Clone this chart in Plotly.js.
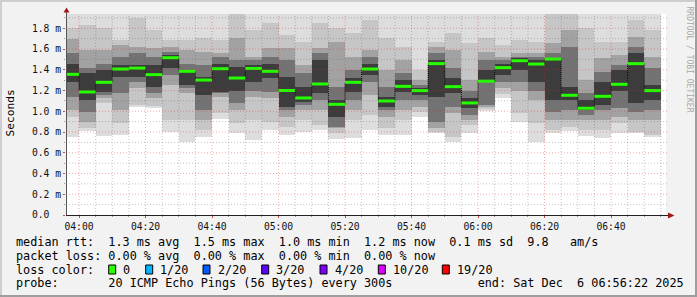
<!DOCTYPE html>
<html><head><meta charset="utf-8">
<script src="https://cdn.plot.ly/plotly-3.0.1.min.js"></script>
<style>html,body{margin:0;padding:0;background:#f2f2f2;}#chart{width:697px;height:297px;}</style>
</head><body><div id="chart"></div>
<script>
// ---- data (values in milliseconds) ----
const slotStarts = ['03:55','04:00','04:05','04:10','04:15','04:20','04:25','04:30','04:35','04:40','04:45','04:50',
  '04:55','05:00','05:05','05:10','05:15','05:20','05:25','05:30','05:35','05:40','05:45','05:50',
  '05:55','06:00','06:05','06:10','06:15','06:20','06:25','06:30','06:35','06:40','06:45','06:50'];
const medianRtt = [1.356,1.186,1.279,1.407,1.416,1.353,1.516,1.385,1.301,1.410,1.320,1.413,
  1.385,1.200,1.128,1.263,1.067,1.279,1.407,1.099,1.240,1.199,1.459,1.237,
  1.080,1.290,1.420,1.487,1.455,1.503,1.154,1.029,1.144,1.260,1.459,1.199];
// smoke bands, outermost (1) to innermost (5)
const smokeLo1 = [0.75,0.81,0.76,0.77,1.04,1.03,0.80,0.70,0.75,0.93,0.79,0.72,0.82,0.77,0.80,0.82,0.73,0.74,
  0.82,0.77,0.77,0.94,0.79,0.70,0.79,1.00,1.13,0.90,0.70,0.79,0.81,0.76,0.74,0.79,0.79,0.75];
const smokeHi1 = [1.96,1.96,1.96,1.96,1.96,1.96,1.96,1.96,1.96,1.96,1.96,1.96,1.96,1.96,1.96,1.96,1.96,1.96,
  1.96,1.96,1.96,1.96,1.96,1.96,1.96,1.96,1.96,1.96,1.96,1.96,1.96,1.96,1.96,1.96,1.96,1.96];
const smokeLo2 = [0.94,0.84,1.08,0.89,1.06,1.05,0.92,0.92,0.82,0.98,0.89,0.92,0.90,0.85,0.92,0.87,0.79,0.92,
  0.96,0.84,0.92,0.99,0.80,0.75,0.87,1.02,1.17,0.98,0.89,0.82,0.85,0.82,0.82,0.89,0.80,0.77];
const smokeHi2 = [1.80,1.83,1.80,1.69,1.90,1.78,1.69,1.69,1.71,1.69,1.96,1.78,1.85,1.735,1.67,1.85,1.80,1.75,
  1.88,1.71,1.62,1.40,1.67,1.75,1.66,1.71,1.64,1.69,1.67,1.96,1.96,1.80,1.67,1.67,1.88,1.78];
const smokeLo3 = [1.01,0.90,1.13,1.01,1.22,1.13,1.25,1.18,0.92,1.14,1.01,1.14,1.13,0.94,1.01,1.01,0.84,1.01,
  1.16,0.94,1.01,1.04,0.84,0.98,0.92,1.04,1.22,1.20,1.11,0.92,0.92,0.92,0.92,0.94,0.92,0.92];
const smokeHi3 = [1.70,1.59,1.59,1.64,1.62,1.61,1.62,1.59,1.57,1.56,1.71,1.52,1.61,1.61,1.45,1.61,1.67,1.52,
  1.59,1.40,1.49,1.30,1.62,1.59,1.30,1.57,1.52,1.56,1.56,1.66,1.78,1.30,1.51,1.54,1.72,1.52];
const smokeLo4 = [1.14,0.99,1.16,1.18,1.28,1.18,1.35,1.22,1.01,1.18,1.08,1.20,1.19,1.01,1.06,1.11,0.85,1.11,
  1.28,1.01,1.11,1.11,0.90,1.04,0.96,1.06,1.28,1.28,1.20,0.99,1.01,0.96,1.01,1.03,0.99,1.01];
const smokeHi4 = [1.56,1.42,1.46,1.52,1.56,1.52,1.57,1.46,1.45,1.52,1.49,1.49,1.52,1.49,1.37,1.56,1.23,1.40,
  1.52,1.23,1.37,1.25,1.56,1.42,1.20,1.49,1.49,1.52,1.52,1.56,1.62,1.18,1.38,1.45,1.62,1.42];
const smokeLo5 = [1.28,1.11,1.19,1.33,1.33,1.23,1.42,1.25,1.16,1.19,1.20,1.28,1.32,1.04,1.09,1.18,0.94,1.19,
  1.35,1.04,1.19,1.16,1.14,1.18,1.03,1.28,1.35,1.40,1.28,1.11,1.11,1.01,1.06,1.20,1.08,1.11];
const smokeHi5 = [1.46,1.37,1.40,1.45,1.45,1.45,1.54,1.40,1.33,1.46,1.43,1.45,1.46,1.33,1.23,1.49,1.11,1.32,
  1.46,1.14,1.30,1.22,1.49,1.32,1.13,1.40,1.46,1.51,1.49,1.51,1.23,1.11,1.28,1.40,1.56,1.25];
const smokeColors = ['#dddddd','#c6c6c6','#a2a2a2','#737373','#3c3c3c'];

const yTickVals = [0,0.2,0.4,0.6,0.8,1.0,1.2,1.4,1.6,1.8];
const yTickText = ['0.0\u00a0\u00a0','0.2 m','0.4 m','0.6 m','0.8 m','1.0 m','1.2 m','1.4 m','1.6 m','1.8 m'];

const lossLabels = ['0','1/20','2/20','3/20','4/20','10/20','19/20'];
const lossColors = ['#26ff00','#00b8ff','#0059ff','#5e00ff','#7e00ff','#dd00ff','#ff0000'];

const statsLine1 = 'median rtt:  1.3 ms avg  1.5 ms max  1.0 ms min  1.2 ms now  0.1 ms sd  9.8   am/s';
const statsLine2 = 'packet loss: 0.00 % avg  0.00 % max  0.00 % min  0.00 % now';
const lossTitle = 'loss color:';
const probeLine = 'probe:       20 ICMP Echo Pings (56 Bytes) every 300s            end: Sat Dec  6 06:56:22 2025';

// ---- helpers ----
const DAY = Date.UTC(2025,11,6);
const toMs = s => DAY + (parseInt(s.slice(0,2))*60 + parseInt(s.slice(3,5)))*60000;
const STEP = 300000;
const starts = slotStarts.map(toMs);
const centers = starts.map(t => t + STEP/2);

const L = 66, R = 666, T = 14, B = 215;
const px = p => (p - L)/(R - L);
const py = p => (B - p)/(B - T);
const xRange = [toMs('03:56') + 5000, toMs('03:56') + 5000 + 600/3.325*60000];
const yTop = (B - T)/103.75;
const nb = s => s.replace(/ /g, '\u00a0');

const traces = [];
const los = [smokeLo1,smokeLo2,smokeLo3,smokeLo4,smokeLo5];
const his = [smokeHi1,smokeHi2,smokeHi3,smokeHi4,smokeHi5];
for (let k = 0; k < 5; k++) {
  traces.push({type:'bar', x:centers, base:los[k], y:his[k].map((h,i)=>h-los[k][i]),
    width:starts.map(()=>STEP), marker:{color:smokeColors[k], line:{width:0}}, hoverinfo:'skip'});
}
// dotted connector between median steps
traces.push({type:'scatter', mode:'lines', x:starts.concat([starts[starts.length-1]+STEP]),
  y:medianRtt.concat([medianRtt[medianRtt.length-1]]), line:{shape:'hv', color:'#000', width:1, dash:'1px,1px'}, hoverinfo:'skip'});
// green median segments
const gx = [], gy = [];
starts.forEach((t,i)=>{ gx.push(t, t+STEP, null); gy.push(medianRtt[i], medianRtt[i], null); });
traces.push({type:'scatter', mode:'lines', x:gx, y:gy, line:{color:lossColors[0], width:3}, hoverinfo:'skip', connectgaps:false});

// ---- shapes ----
const shapes = [];
const minorGrid = 'rgba(90,90,90,0.35)', majorGrid = 'rgba(230,40,40,0.38)';
for (let v = 1; v <= 19; v++) {
  const val = v/10;
  shapes.push({type:'line', xref:'paper', yref:'y', x0:0, x1:1.003, y0:val, y1:val, layer:'above',
    line:{color: v%2===0 ? majorGrid : minorGrid, width:1, dash:'1px,2px'}});
}
for (let t = toMs('04:00'); t <= xRange[1]; t += STEP) {
  const major = ((t - toMs('04:00')) % (4*STEP)) === 0;
  shapes.push({type:'line', xref:'x', yref:'paper', x0:t, x1:t, y0:0, y1:1, layer:'above',
    line:{color: major ? majorGrid : minorGrid, width:1, dash:'1px,2px'}});
}
// axis lines and arrows
shapes.push({type:'line', xref:'paper', yref:'paper', x0:px(66), x1:px(669), y0:py(215.5), y1:py(215.5), layer:'above', line:{color:'#222', width:1}});
shapes.push({type:'line', xref:'paper', yref:'paper', x0:px(66.5), x1:px(66.5), y0:py(215), y1:py(11), layer:'above', line:{color:'#555', width:1}});
shapes.push({type:'path', xref:'paper', yref:'paper', layer:'above', fillcolor:'#a01818', line:{width:0},
  path:`M${px(668)},${py(212.5)} L${px(674.5)},${py(215.5)} L${px(668)},${py(218.5)} Z`});
shapes.push({type:'path', xref:'paper', yref:'paper', layer:'above', fillcolor:'#a01818', line:{width:0},
  path:`M${px(63.5)},${py(12.5)} L${px(66.5)},${py(7.5)} L${px(69.5)},${py(12.5)} Z`});
// frame shading
const rectPx = (x0,y0,x1,y1,c) => ({type:'rect', xref:'paper', yref:'paper', x0:px(x0), x1:px(x1), y0:py(y0), y1:py(y1), fillcolor:c, line:{width:0}, layer:'below'});
shapes.push(rectPx(0,0,697,2,'#cecece'), rectPx(0,0,2,297,'#cecece'), rectPx(0,295,697,297,'#9e9e9e'), rectPx(695,0,697,297,'#9e9e9e'));

// ---- annotations ----
const F = 'DejaVu Sans Mono';
const FS = 11.8;
const ann = [];
const txt = (x, y, s, opt={}) => ann.push(Object.assign({xref:'paper', yref:'paper', x:px(x), y:py(y), text:nb(s), showarrow:false,
  xanchor:'left', yanchor:'middle', borderpad:0, borderwidth:0, font:{family:F, size:FS, color:'#000'}}, opt));
txt(16, 241.5, statsLine1);
txt(16, 255.5, statsLine2);
txt(16, 269.5, lossTitle);
const boxX = [108.7,145.7,203,261.7,320,378.3,442.3];
lossLabels.forEach((s,i)=>{
  shapes.push({type:'rect', xref:'paper', yref:'paper', x0:px(boxX[i]), x1:px(boxX[i]+7), y0:py(265), y1:py(274),
    fillcolor:lossColors[i], line:{color:'#000', width:1}, layer:'above'});
  txt(boxX[i]+14.5, 269.5, s);
});
txt(16, 283, probeLine);
txt(10, 113.5, 'Seconds', {textangle:-90, xanchor:'center', font:{family:F, size:11.2, color:'#000'}});
txt(688.5, 59, 'RRDTOOL / TOBI OETIKER', {textangle:90, xanchor:'center', font:{family:F, size:8, color:'#a8a8a8'}});

const layout = {
  width:697, height:297, margin:{l:L, r:697-R, t:T, b:297-B, pad:0},
  paper_bgcolor:'#f2f2f2', plot_bgcolor:'#ffffff', showlegend:false,
  barmode:'overlay', bargap:0,
  xaxis:{type:'date', range:xRange, tick0:toMs('04:00'), dtick:4*STEP, tickformat:'%H:%M',
    showgrid:false, zeroline:false, showline:false, ticks:'outside', ticklen:2, tickcolor:'#c05050',
    tickfont:{family:F, size:9.7, color:'#111'},
    minor:{ticks:'outside', ticklen:1, tickcolor:'#999', dtick:STEP, tick0:toMs('04:00'), showgrid:false}},
  yaxis:{range:[0,yTop], tickmode:'array', tickvals:yTickVals, ticktext:yTickText,
    showgrid:false, zeroline:false, showline:false, ticks:'outside', ticklen:2, tickcolor:'#c05050',
    tickfont:{family:F, size:9.7, color:'#111'},
    minor:{ticks:'outside', ticklen:1, tickcolor:'#999', dtick:0.1, tick0:0, showgrid:false}},
  shapes:shapes, annotations:ann
};
Plotly.newPlot('chart', traces, layout, {staticPlot:true, displayModeBar:false});
</script></body></html>
